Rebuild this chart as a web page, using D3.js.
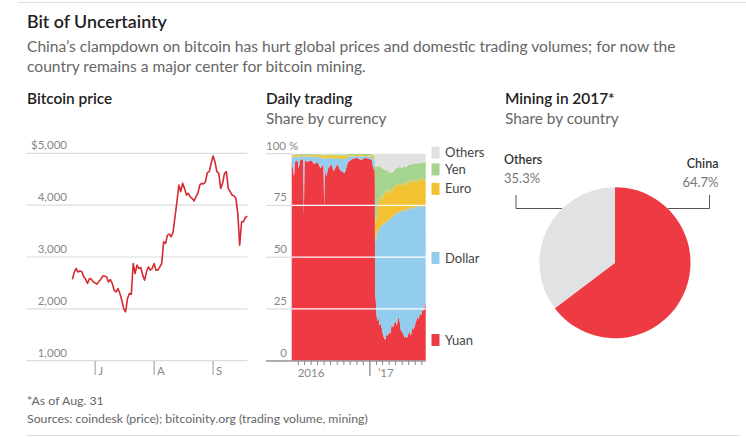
<!DOCTYPE html>
<html><head><meta charset="utf-8">
<script src="https://cdn.jsdelivr.net/npm/d3@7"></script>
<style>
body{margin:0;background:#fff;}
svg{display:block;font-family:Lato,"Open Sans",sans-serif;}
</style></head><body>
<svg id="c" width="746" height="437"></svg>
<script>
// ---------- DATA ----------
const priceDates = ["2017-06-19","2017-06-20","2017-06-21","2017-06-22","2017-06-23","2017-06-24","2017-06-25","2017-06-26","2017-06-27","2017-06-28","2017-06-29","2017-06-30",
"2017-07-01","2017-07-02","2017-07-03","2017-07-04","2017-07-05","2017-07-06","2017-07-07","2017-07-08","2017-07-09","2017-07-10","2017-07-11","2017-07-12","2017-07-13","2017-07-14","2017-07-15","2017-07-16","2017-07-17","2017-07-18","2017-07-19","2017-07-20","2017-07-21","2017-07-22","2017-07-23","2017-07-24","2017-07-25","2017-07-26","2017-07-27","2017-07-28","2017-07-29","2017-07-30","2017-07-31",
"2017-08-01","2017-08-02","2017-08-03","2017-08-04","2017-08-05","2017-08-06","2017-08-07","2017-08-08","2017-08-09","2017-08-10","2017-08-11","2017-08-12","2017-08-13","2017-08-14","2017-08-15","2017-08-16","2017-08-17","2017-08-18","2017-08-19","2017-08-20","2017-08-21","2017-08-22","2017-08-23","2017-08-24","2017-08-25","2017-08-26","2017-08-27","2017-08-28","2017-08-29","2017-08-30","2017-08-31",
"2017-09-01","2017-09-02","2017-09-03","2017-09-04","2017-09-05","2017-09-06","2017-09-07","2017-09-08","2017-09-09","2017-09-10","2017-09-11","2017-09-12","2017-09-13","2017-09-14","2017-09-15","2017-09-16","2017-09-17","2017-09-18","2017-09-19"];
const priceValues = [2570,2700,2780,2710,2730,2715,2620,2570,2490,2585,2570,2520,
2500,2476,2530,2572,2637,2630,2618,2520,2566,2489,2360,2328,2392,2296,2167,2006,1941,2199,2296,2283,2875,2682,2843,2778,2798,2650,2553,2714,2811,2746,2778,
2875,2746,2746,2811,2875,3294,3261,3422,3442,3390,3487,3777,4066,4388,4260,4420,4324,4195,4227,4160,4131,4079,4163,4227,4388,4420,4408,4453,4627,4646,4807,
4948,4839,4646,4614,4324,4420,4614,4646,4324,4260,4195,4182,4131,3841,3229,3680,3680,3764,3789];
const priceTickValues = [5000,4000,3000,2000,1000];
const priceTickLabels = ["$5,000","4,000","3,000","2,000","1,000"];
const monthTickDates = ["2017-07-01","2017-08-01","2017-09-01"];
const monthTickLabels = ["J","A","S"];

const shareDates = ["2016-01-01","2016-01-08","2016-01-12","2016-01-16","2016-01-28","2016-02-03","2016-02-10","2016-02-24","2016-02-27","2016-03-01","2016-03-15","2016-04-01","2016-04-15","2016-05-01","2016-05-15","2016-05-29","2016-06-01","2016-06-04","2016-06-10","2016-06-20","2016-07-05","2016-07-15","2016-08-01","2016-08-15","2016-09-05","2016-09-20","2016-10-10","2016-11-01","2016-11-20","2016-12-10","2016-12-31",
"2017-01-10","2017-01-18","2017-01-22","2017-01-24","2017-01-25","2017-01-28","2017-02-01","2017-02-05","2017-02-10","2017-02-15","2017-02-20","2017-02-25","2017-03-02","2017-03-08","2017-03-14","2017-03-20","2017-03-26","2017-04-01","2017-04-07","2017-04-13","2017-04-19","2017-04-25","2017-05-01","2017-05-07","2017-05-13","2017-05-19","2017-05-25","2017-05-31","2017-06-06","2017-06-12","2017-06-18","2017-06-24","2017-06-30","2017-07-06","2017-07-12","2017-07-18","2017-07-24","2017-07-30","2017-08-05","2017-08-11","2017-08-17","2017-08-23","2017-08-29","2017-09-04","2017-09-10","2017-09-16","2017-09-19"];
const yuan   = [96,92,89,96,97,93,97,97.5,70,97,96,97,95,96,93,95,74,94,89,93,95,91.5,95,92,90.5,96,97.5,98,97,98,97.5,
97,92,95,90,32,30,22,19,21,17,18,16,13,11,10,13,12,14,13,18,16,18,19,17,21,20,15,14,13,11,12,11,13,14,12,16,15,17,19,21,20,23,22,25,24,27,28];
const dollar = [2.5,6,9,2.6,1.8,5,1.8,1.4,28,1.8,2.5,1.8,3.3,2.5,5,3.2,23,4,8.5,5,3,6,3,5.5,7,2.5,1.2,0.9,1.5,0.9,1.2,
1.5,5,3,6,28,27,39,43,42,47,47,50,52,56,56,55,55,54,56,51,54,52,52,55,50,52,57,59,59,62,60,62,61,59,62,58,58,57,56,53,55,51,53,49,51,48,47];
const euro   = [0.7,1,1,0.7,0.6,1,0.6,0.5,1,0.6,0.8,0.6,0.9,0.8,1.2,1,1.8,1.2,1.5,1.2,1.2,1.5,1.2,1.5,1.5,0.8,0.6,0.5,0.7,0.5,0.6,
0.7,1.5,1,1.5,6,13,7,12,14,12,14,14,13,14,16,12,16,14,14,12,14,13,14,12,15,13,14,11,14,12,15,12,12,14,12,14,13,13,13,12,13,13,14,13,13,12,11];
const yen    = [0.5,0.6,0.6,0.4,0.4,0.6,0.4,0.4,0.6,0.4,0.5,0.4,0.5,0.5,0.5,0.5,0.8,0.5,0.7,0.5,0.5,0.7,0.5,0.7,0.7,0.5,0.5,0.4,0.6,0.4,0.5,
0.6,1,0.7,1.5,27.5,24,25.5,20,17,17.5,15,13,15,11.5,10,12,9,9,7.5,10,7,9,8,9.5,7,9,7.5,9,7.5,9,6.5,9,8.5,8,8.5,7,9,8.5,7,9.5,7,9,6.5,9,7.5,9,10];
const others = [0.3,0.4,0.4,0.3,0.2,0.4,0.2,0.2,0.4,0.2,0.2,0.2,0.3,0.2,0.3,0.3,0.4,0.3,0.3,0.3,0.3,0.3,0.3,0.3,0.3,0.2,0.2,0.2,0.2,0.2,0.2,
0.2,0.5,0.3,1,6.5,6,6.5,6,6,6.5,6,7,7,7.5,8,8,8,9,9.5,9,9,8,7,6.5,7,6,6.5,7,6.5,6,6.5,6,5.5,5,5.5,5,5,4.5,5,4.5,5,4,4.5,4,4.5,4,4];
const currencyNames = ["Yuan","Dollar","Euro","Yen","Others"];
const currencyColors = ["#ee3a43","#93cdee","#f2c232","#a4d48e","#e1e1e1"];
const legendLevels = [10,49.6,83,92.4,100.5];
const shareTickValues = [0,25,50,75,100];
const shareTickLabels = ["0","25","50","75","100 %"];
const yearTickDates = ["2016-01-01","2017-01-01"];
const yearTickLabels = ["2016","\u201917"];

const miningCountries = ["China","Others"];
const miningShares = [64.7,35.3];
const miningColors = ["#ee3a43","#e1e2e4"];

// ---------- DRAW ----------
const svg = d3.select("#c");
const parse = d3.timeParse("%Y-%m-%d");
svg.append("rect").attr("width",746).attr("height",437).attr("fill","#fff");

// frame rules
svg.append("line").attr("x1",18).attr("x2",746).attr("y1",2.5).attr("y2",2.5).attr("stroke","#ddd");
svg.append("line").attr("x1",27).attr("x2",740).attr("y1",435.5).attr("y2",435.5).attr("stroke","#ddd");

// headings
svg.append("text").attr("x",27).attr("y",28).attr("font-size",17.8).attr("font-weight",600).attr("fill","#222").text("Bit of Uncertainty");
const sub = svg.append("text").attr("font-size",15.6).attr("fill","#666");
sub.append("tspan").attr("x",27).attr("y",52).text("China\u2019s clampdown on bitcoin has hurt global prices and domestic trading volumes; for now the");
sub.append("tspan").attr("x",27).attr("y",72).text("country remains a major center for bitcoin mining.");
const heads = [["Bitcoin price",27,null],["Daily trading",266,"Share by currency"],["Mining in 2017*",505,"Share by country"]];
heads.forEach(h=>{
  svg.append("text").attr("x",h[1]).attr("y",104).attr("font-size",15.4).attr("font-weight",600).attr("fill","#222").text(h[0]);
  if(h[2]) svg.append("text").attr("x",h[1]).attr("y",124).attr("font-size",15.4).attr("fill","#666").text(h[2]);
});
svg.append("text").attr("x",27).attr("y",405).attr("font-size",12.3).attr("fill","#666").text("*As of Aug. 31");
svg.append("text").attr("x",27).attr("y",423).attr("font-size",12.3).attr("fill","#666").text("Sources: coindesk (price); bitcoinity.org (trading volume, mining)");

// ---- price chart ----
const xP = d3.scaleTime().domain([parse("2017-05-26"),parse("2017-09-19")]).range([26.7,247.3]);
const yP = d3.scaleLinear().domain([1000,5000]).range([360.7,153.3]);
const gP = svg.append("g");
priceTickValues.forEach((v,i)=>{
  gP.append("line").attr("x1",26.7).attr("x2",247.3).attr("y1",yP(v)).attr("y2",yP(v)).attr("stroke","#dcdcdc").attr("stroke-width",1.2);
  gP.append("text").attr("x",67).attr("y",yP(v)-4).attr("text-anchor","end").attr("font-size",11.5).attr("fill","#888").text(priceTickLabels[i]);
});
monthTickDates.forEach((d,i)=>{
  const x = xP(parse(d));
  gP.append("line").attr("x1",x).attr("x2",x).attr("y1",361).attr("y2",375).attr("stroke","#999");
  gP.append("text").attr("x",x+3).attr("y",375).attr("font-size",11.5).attr("fill","#888").text(monthTickLabels[i]);
});
const priceData = priceDates.map((d,i)=>({date:parse(d),v:priceValues[i]}));
gP.append("path").datum(priceData)
  .attr("d",d3.line().x(d=>xP(d.date)).y(d=>yP(d.v)))
  .attr("fill","none").attr("stroke","#d42a30").attr("stroke-width",1.6).attr("stroke-linejoin","round");

// ---- stacked share chart ----
const xS = d3.scaleTime().domain([parse("2016-01-01"),parse("2017-09-19")]).range([291.7,425.7]);
const yS = d3.scaleLinear().domain([0,100]).range([360.7,153.7]);
const gS = svg.append("g");
shareTickValues.forEach((v,i)=>{
  gS.append("line").attr("x1",266).attr("x2",291.7).attr("y1",yS(v)).attr("y2",yS(v)).attr("stroke","#dcdcdc").attr("stroke-width",1.2);
  const t = gS.append("text").attr("y",yS(v)-4).attr("font-size",11.5).attr("fill","#888");
  if(v===100){ t.attr("x",266).text(shareTickLabels[i]); }
  else { t.attr("x",287).attr("text-anchor","end").text(shareTickLabels[i]); }
});
const rows = shareDates.map((d,i)=>({date:parse(d),Yuan:yuan[i],Dollar:dollar[i],Euro:euro[i],Yen:yen[i],Others:others[i]}));
const series = d3.stack().keys(currencyNames)(rows);
const area = d3.area().x(d=>xS(d.data.date)).y0(d=>yS(d[0])).y1(d=>yS(d[1]));
gS.selectAll("path.layer").data(series).join("path").attr("class","layer")
  .attr("d",area).attr("fill",(d,i)=>currencyColors[i]);
[25,50,75].forEach(v=>{
  gS.append("line").attr("x1",291.7).attr("x2",425.7).attr("y1",yS(v)).attr("y2",yS(v)).attr("stroke","#fff").attr("stroke-width",1.2);
});
gS.append("line").attr("x1",266).attr("x2",425.7).attr("y1",361).attr("y2",361).attr("stroke","#999").attr("stroke-width",1.5);
d3.timeMonths(parse("2016-02-01"),parse("2017-09-19")).forEach(m=>{
  const x = xS(m);
  const big = m.getMonth()===0;
  gS.append("line").attr("x1",x).attr("x2",x).attr("y1",361).attr("y2",big?376:365).attr("stroke",big?"#666":"#888");
});
yearTickDates.forEach((d,i)=>{
  const x = xS(parse(d));
  gS.append("text").attr("x",i===0?x+6:x+8).attr("y",377).attr("font-size",11.5).attr("fill","#888").text(yearTickLabels[i]);
});
currencyNames.forEach((n,i)=>{
  const cy = yS(legendLevels[i]);
  gS.append("rect").attr("x",431.5).attr("y",cy-6).attr("width",8).attr("height",12).attr("fill",currencyColors[i]);
  gS.append("text").attr("x",445).attr("y",cy+4.5).attr("font-size",13).attr("fill","#444").text(n);
});

// ---- pie ----
const cx = 615, cy = 262.7, r = 75.5;
const gPie = svg.append("g").attr("transform",`translate(${cx},${cy})`);
const arcs = d3.pie().sort(null).value(d=>d)(miningShares);
gPie.selectAll("path").data(arcs).join("path").attr("d",d3.arc().innerRadius(0).outerRadius(r)).attr("fill",(d,i)=>miningColors[i]);
// labels + leaders
svg.append("path").attr("d","M516,195V208.5H562").attr("fill","none").attr("stroke","#555");
svg.append("path").attr("d","M709.5,195V208.5H668").attr("fill","none").attr("stroke","#555");
svg.append("text").attr("x",504).attr("y",164).attr("font-size",12.5).attr("font-weight",600).attr("fill","#333").text(miningCountries[1]);
svg.append("text").attr("x",504).attr("y",183).attr("font-size",13).attr("fill","#777").text(miningShares[1].toFixed(1)+"%");
svg.append("text").attr("x",718.5).attr("y",168).attr("text-anchor","end").attr("font-size",12.5).attr("font-weight",600).attr("fill","#333").text(miningCountries[0]);
svg.append("text").attr("x",718.5).attr("y",187).attr("text-anchor","end").attr("font-size",13).attr("fill","#777").text(miningShares[0].toFixed(1)+"%");
</script>
</body></html>
